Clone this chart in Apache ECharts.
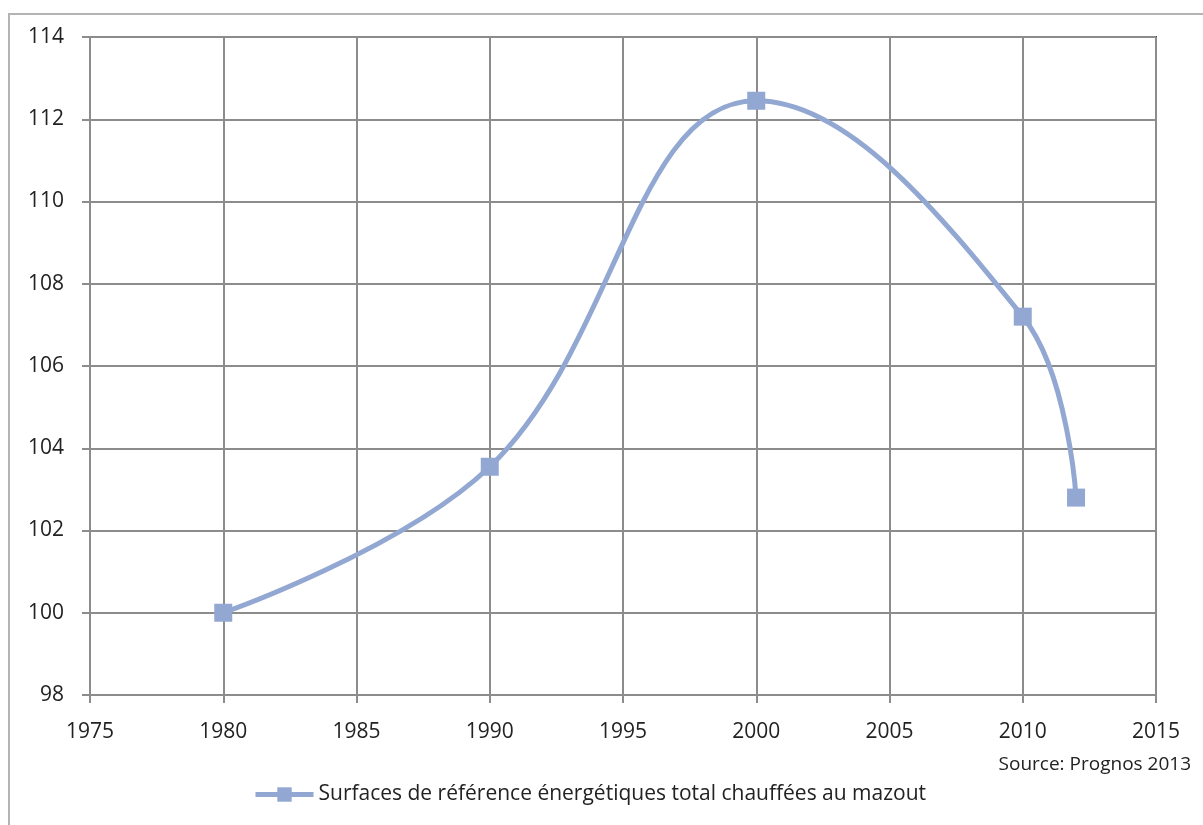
<!DOCTYPE html>
<html>
<head>
<meta charset="utf-8">
<script src="https://cdn.jsdelivr.net/npm/echarts@6/dist/echarts.min.js"></script>
<style>
  html, body { margin: 0; padding: 0; background: #fff; }
  #chart { width: 1203px; height: 825px; }
</style>
</head>
<body>
<div id="chart"></div>
<script>
// Heated reference floor area (index, 1980 = 100)
const years = [1980, 1990, 2000, 2010, 2012];
const surfaceIndex = [100, 103.55, 112.45, 107.2, 102.8];
const seriesName = 'Surfaces de référence énergétiques total chauffées au mazout';
const sourceText = 'Source: Prognos 2013';

const xMin = 1975, xMax = 2015, xStep = 5;
const yMin = 98, yMax = 114, yStep = 2;

const lineColor = '#92A8D2';
const fontFamily = '"Open Sans", "Noto Sans", sans-serif';

const chart = echarts.init(document.getElementById('chart'), null, { renderer: 'canvas' });

chart.setOption({
  backgroundColor: '#fff',
  animation: false,
  graphic: [
    {
      type: 'polyline',
      shape: { points: [[1203, 14], [9, 14], [9, 825]] },
      style: { stroke: '#b4b4b4', lineWidth: 2, fill: null },
      silent: true
    },
    {
      type: 'text',
      right: 12,
      top: 755,
      style: { text: sourceText, font: '19px ' + fontFamily, fill: '#222' }
    }
  ],
  grid: {
    left: 90, top: 37, right: 47, bottom: 130,
    show: true, borderColor: '#404040', borderWidth: 2, backgroundColor: '#fff'
  },
  legend: {
    show: true,
    left: 248,
    top: 779,
    itemWidth: 58,
    itemHeight: 18,
    itemGap: 4,
    textStyle: { fontSize: 21, fontFamily: fontFamily, color: '#222' },
    data: [{ name: seriesName, lineStyle: { width: 5 } }]
  },
  xAxis: {
    type: 'value',
    min: xMin, max: xMax, interval: xStep,
    axisLine: { show: true, lineStyle: { color: '#8c8c8c', width: 2 } },
    axisTick: { show: true, inside: false, length: 8, lineStyle: { color: '#8c8c8c', width: 2 } },
    splitLine: { show: true, lineStyle: { color: '#8c8c8c', width: 2 } },
    axisLabel: { margin: 27, fontSize: 21, fontFamily: fontFamily, color: '#222', formatter: v => String(v) }
  },
  yAxis: {
    type: 'value',
    min: yMin, max: yMax, interval: yStep,
    axisLine: { show: true, lineStyle: { color: '#8c8c8c', width: 2 } },
    axisTick: { show: true, inside: false, length: 8, lineStyle: { color: '#8c8c8c', width: 2 } },
    splitLine: { show: true, lineStyle: { color: '#8c8c8c', width: 2 } },
    axisLabel: { margin: 26, fontSize: 21, fontFamily: fontFamily, color: '#222' }
  },
  series: [{
    name: seriesName,
    type: 'line',
    data: years.map((y, i) => [y, surfaceIndex[i]]),
    smooth: 0.4,
    symbol: 'rect',
    symbolSize: 18,
    itemStyle: { color: lineColor },
    lineStyle: { color: lineColor, width: 5 }
  }]
});
</script>
</body>
</html>
